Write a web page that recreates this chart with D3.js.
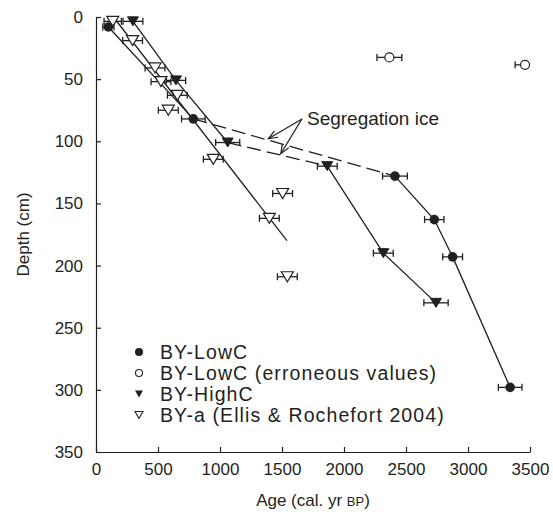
<!DOCTYPE html>
<html>
<head>
<meta charset="utf-8">
<script src="https://cdn.jsdelivr.net/npm/d3@7"></script>
<style>
  html, body { margin: 0; padding: 0; background: #fff; }
  svg { display: block; }
  text { font-family: "Liberation Sans", Arial, Helvetica, sans-serif; fill: #231f20; }
</style>
</head>
<body>
<svg id="chart" width="553" height="518"></svg>
<script>
// ---- data ----
const xTicks = [0, 500, 1000, 1500, 2000, 2500, 3000, 3500];
const yTicks = [0, 50, 100, 150, 200, 250, 300, 350];

// BY-LowC (filled circles)
const lowCAge   = [100, 785, 2411, 2728, 2876, 3340];
const lowCDepth = [8, 82, 128, 163, 193, 298];
const lowCErr   = [45, 95, 100, 78, 80, 95];

// BY-LowC erroneous values (open circles)
const lowCErrAge   = [2366, 3460];
const lowCErrDepth = [32.5, 38.5];
const lowCErrErr   = [100, 80];

// BY-HighC (filled down triangles)
const highCAge   = [298, 645, 1062, 1865, 2317, 2742];
const highCDepth = [3.5, 51, 101, 120, 190, 230];
const highCErr   = [80, 78, 97, 80, 80, 98];

// BY-a (Ellis & Rochefort 2004) (open down triangles)
const byaAge   = [135, 295, 476, 524, 656, 583, 946, 1505, 1398, 1543];
const byaDepth = [3.5, 19, 41, 52, 63, 75, 114.5, 142, 162, 209];
const byaErr   = [70, 80, 80, 80, 80, 80, 80, 80, 80, 80];

// BY-a age-depth line
const byaLineAge   = [140, 1540];
const byaLineDepth = [0, 180];

// Segregation-ice annotation targets (age, depth)
const arrowTargetAge   = [1390, 1490];
const arrowTargetDepth = [98, 110];
const arrowFrom = {age: 1661, depth: 82};
const annotText = "Segregation ice";

const legendLabels = ["BY-LowC", "BY-LowC (erroneous values)", "BY-HighC", "BY-a (Ellis & Rochefort 2004)"];

// ---- build ----
const svg = d3.select("#chart");
const ink = "#231f20";
const x = d3.scaleLinear().domain([0, 3500]).range([96, 530]);
const y = d3.scaleLinear().domain([0, 350]).range([17, 452]);

const zip = (a, d, e) => a.map((v, i) => ({age: v, depth: d[i], err: e ? e[i] : 0}));
const lowC = zip(lowCAge, lowCDepth, lowCErr);
const lowCBad = zip(lowCErrAge, lowCErrDepth, lowCErrErr);
const highC = zip(highCAge, highCDepth, highCErr);
const bya = zip(byaAge, byaDepth, byaErr);
const byaLine = zip(byaLineAge, byaLineDepth);

// axes
const yAxis = d3.axisLeft(y).tickValues(yTicks).tickFormat(d3.format("d"))
  .tickSizeInner(-5).tickSizeOuter(0).tickPadding(13);
const xAxis = d3.axisBottom(x).tickValues(xTicks).tickFormat(d3.format("d"))
  .tickSizeInner(-5).tickSizeOuter(0).tickPadding(11);

const gy = svg.append("g").attr("transform", `translate(${x(0)},0)`).call(yAxis);
const gx = svg.append("g").attr("transform", `translate(0,${y(350)})`).call(xAxis);
[gx, gy].forEach(g => {
  g.select(".domain").attr("stroke", ink).attr("stroke-width", 1.2);
  g.selectAll(".tick line").attr("stroke", ink).attr("stroke-width", 1.2);
  g.selectAll(".tick text").attr("font-size", 17).attr("fill", ink)
    .style("font-family", '"Liberation Sans", Arial, sans-serif');
});

// axis titles
svg.append("text")
  .attr("transform", `translate(23,${(y(0) + y(350)) / 2}) rotate(-90)`)
  .attr("text-anchor", "middle").attr("dy", "0.35em")
  .attr("font-size", 17).text("Depth (cm)");

const xt = svg.append("text")
  .attr("x", (x(0) + x(3500)) / 2).attr("y", 506)
  .attr("text-anchor", "middle").attr("font-size", 17);
xt.append("tspan").text("Age (cal. yr ");
xt.append("tspan").attr("font-size", 13).text("BP");
xt.append("tspan").text(")");

// lines
const line = d3.line().x(d => x(d.age)).y(d => y(d.depth));
const solid = (data) => svg.append("path").datum(data).attr("d", line)
  .attr("fill", "none").attr("stroke", ink).attr("stroke-width", 1.3);
const dashed = (data) => svg.append("path").datum(data).attr("d", line)
  .attr("fill", "none").attr("stroke", ink).attr("stroke-width", 1.3)
  .attr("stroke-dasharray", "14,6");

solid(byaLine);
solid(lowC.slice(0, 2));
solid(lowC.slice(2));
solid(highC.slice(0, 3));
solid(highC.slice(3));
dashed([lowC[1], lowC[2]]);
dashed([highC[2], highC[3]]);

// error bars
const allPts = [].concat(lowC, lowCBad, highC, bya);
const eb = svg.append("g").attr("stroke", ink).attr("stroke-width", 1.3);
allPts.forEach(d => {
  const x1 = x(d.age - d.err), x2 = x(Math.min(d.age + d.err, 3500)), yy = y(d.depth);
  eb.append("line").attr("x1", x1).attr("x2", x2).attr("y1", yy).attr("y2", yy);
  eb.append("line").attr("x1", x1).attr("x2", x1).attr("y1", yy - 3.5).attr("y2", yy + 3.5);
  if (d.age + d.err <= 3500)
    eb.append("line").attr("x1", x2).attr("x2", x2).attr("y1", yy - 3.5).attr("y2", yy + 3.5);
});

// markers
const tri = (w, h) => `M${-w/2},${-h/2}L${w/2},${-h/2}L0,${h/2}Z`;
svg.append("g").selectAll("path").data(bya).join("path")
  .attr("d", tri(12, 10)).attr("transform", d => `translate(${x(d.age)},${y(d.depth)})`)
  .attr("fill", "#fff").attr("stroke", ink).attr("stroke-width", 1.2);
svg.append("g").selectAll("path").data(highC).join("path")
  .attr("d", tri(11, 9)).attr("transform", d => `translate(${x(d.age)},${y(d.depth)})`)
  .attr("fill", ink).attr("stroke", ink).attr("stroke-width", 1);
svg.append("g").selectAll("circle").data(lowC).join("circle")
  .attr("cx", d => x(d.age)).attr("cy", d => y(d.depth)).attr("r", 4.8).attr("fill", ink);
svg.append("g").selectAll("circle").data(lowCBad).join("circle")
  .attr("cx", d => x(d.age)).attr("cy", d => y(d.depth)).attr("r", 4.5)
  .attr("fill", "#fff").attr("stroke", ink).attr("stroke-width", 1.2);

// annotation
const ah = svg.append("g").attr("stroke", ink).attr("stroke-width", 1.2).attr("fill", "none");
arrowTargetAge.forEach((a, i) => {
  const x0 = x(arrowFrom.age), y0 = y(arrowFrom.depth);
  const x1 = x(a), y1 = y(arrowTargetDepth[i]);
  ah.append("line").attr("x1", x0).attr("y1", y0).attr("x2", x1).attr("y2", y1);
  const ang = Math.atan2(y1 - y0, x1 - x0);
  const L = 10, spread = 0.38;
  const p1 = [x1 - L * Math.cos(ang - spread), y1 - L * Math.sin(ang - spread)];
  const p2 = [x1 - L * Math.cos(ang + spread), y1 - L * Math.sin(ang + spread)];
  ah.append("path").attr("d", `M${p1}L${x1},${y1}L${p2}`);
});
svg.append("text").attr("x", x(arrowFrom.age) + 5).attr("y", y(arrowFrom.depth) + 6)
  .attr("font-size", 19).text(annotText);

// legend
const lg = svg.append("g");
const rowY = i => 352 + i * 21;
const lx = 139;
lg.append("circle").attr("cx", lx).attr("cy", rowY(0)).attr("r", 4).attr("fill", ink);
lg.append("circle").attr("cx", lx).attr("cy", rowY(1)).attr("r", 3.5).attr("fill", "#fff").attr("stroke", ink).attr("stroke-width", 1.1);
lg.append("path").attr("d", tri(8, 7)).attr("transform", `translate(${lx},${rowY(2)})`).attr("fill", ink);
lg.append("path").attr("d", tri(8, 7)).attr("transform", `translate(${lx},${rowY(3)})`).attr("fill", "#fff").attr("stroke", ink).attr("stroke-width", 1.1);
legendLabels.forEach((t, i) => {
  lg.append("text").attr("x", 160).attr("y", rowY(i)).attr("dy", "0.35em")
    .attr("font-size", 19.5).attr("letter-spacing", 1.1).text(t);
});
</script>
</body>
</html>
